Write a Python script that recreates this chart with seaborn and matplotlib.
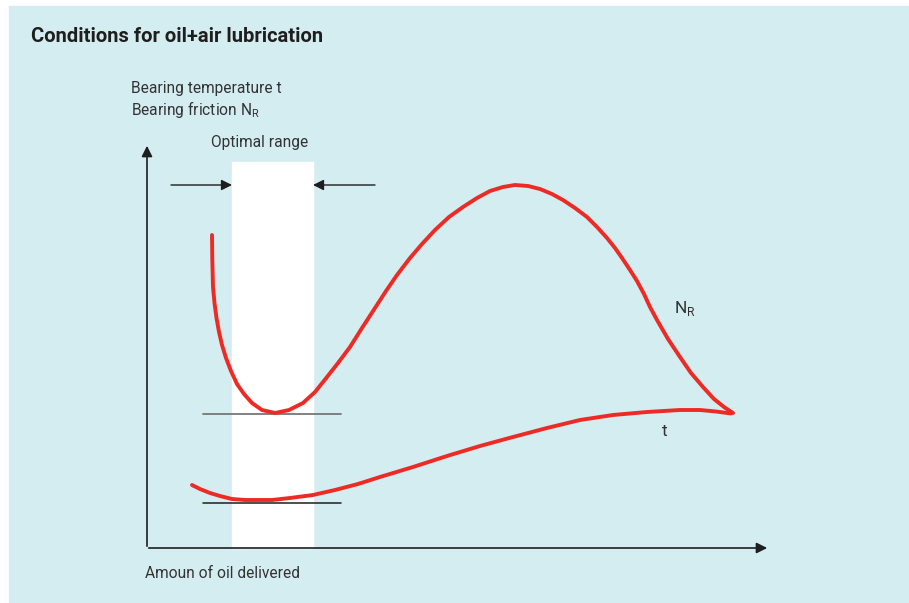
import pandas as pd
import matplotlib.pyplot as plt
import seaborn as sns

# curve points (pixel coords, y downwards)
nr_x = [212, 212.3, 213, 214.5, 216.5, 219, 222, 226, 231, 237, 244, 252, 262, 275, 289,
        303, 315, 327, 338, 350, 362, 375, 386, 397, 410, 422, 435, 449, 463, 477, 490,
        503, 515, 528, 540, 552, 563, 575, 587, 597, 607, 615, 622, 630, 637, 644, 650,
        657, 668, 680, 691, 703, 714, 724, 733]
nr_y = [235, 260, 287, 303, 318, 332, 345, 358, 371, 384, 394, 403, 410, 413, 410,
        403, 392, 377, 363, 347, 328, 308, 291, 275, 258, 244, 230, 217, 207, 198, 191,
        187, 185, 186, 189, 194, 200, 208, 217, 227, 238, 248, 258, 270, 281, 294, 307,
        320, 339, 357, 373, 387, 399, 407, 413]

t_x = [192, 200, 210, 220, 232, 245, 258, 272, 290, 313, 335, 358, 380, 413, 447, 480,
       513, 547, 580, 613, 647, 680, 700, 716, 731]
t_y = [485, 489, 493, 496, 499, 500, 500, 500, 498, 495, 490, 484, 477, 467, 456, 446,
       437, 428, 420, 415, 412, 410, 410, 411.5, 413.5]

curves = pd.DataFrame({
    "x": nr_x + t_x,
    "y": nr_y + t_y,
    "curve": ["N_R"] * len(nr_x) + ["t"] * len(t_x),
})

sns.set_theme(style="white")
plt.rcParams['font.family'] = ['Roboto', 'DejaVu Sans']

bg = "#d4edf1"
red = "#ee2a24"
ink = "#1e1e1e"

fig = plt.figure(figsize=(9.09, 6.03), dpi=100)
ax = fig.add_axes([0, 0, 1, 1])

# panel background and optimal range band
ax.add_patch(plt.Rectangle((9, 6), 900, 597, color=bg, zorder=0))
ax.add_patch(plt.Rectangle((232, 162), 81, 386, color="white", zorder=1))

sns.lineplot(data=curves, x="x", y="y", units="curve", estimator=None, sort=False,
             color=red, lw=2.8, ax=ax, zorder=4, legend=False)
ax.set_xlim(0, 909)
ax.set_ylim(603, 0)
ax.axis("off")

# minimum reference lines
ax.plot([203, 341], [414, 414], color="#777777", lw=1.3, zorder=3)
ax.plot([203, 341], [503, 503], color=ink, lw=1.1, zorder=3)

# axes with arrows
ax.annotate("", xy=(147, 143), xytext=(147, 549),
            arrowprops=dict(arrowstyle="-|>", color=ink, lw=1.2, mutation_scale=16), zorder=5)
ax.annotate("", xy=(770, 548), xytext=(146, 548),
            arrowprops=dict(arrowstyle="-|>", color=ink, lw=1.2, mutation_scale=16), zorder=5)

# optimal range arrows
ax.annotate("", xy=(232, 185), xytext=(171, 185),
            arrowprops=dict(arrowstyle="-|>", color=ink, lw=1.0, mutation_scale=16,
                            shrinkA=0, shrinkB=0), zorder=5)
ax.annotate("", xy=(313, 185), xytext=(375, 185),
            arrowprops=dict(arrowstyle="-|>", color=ink, lw=1.0, mutation_scale=16,
                            shrinkA=0, shrinkB=0), zorder=5)

# texts
ax.text(31, 37, "Conditions for oil+air lubrication", fontsize=14.5, fontweight="bold",
        color=ink, va="center", ha="left")
ax.text(131, 89, "Bearing temperature t", fontsize=11.2, color="#333333", va="center")
ax.text(131, 110, "Bearing friction N$_\\mathregular{R}$", fontsize=11.2, color="#333333", va="center")
ax.text(260, 143, "Optimal range", fontsize=11.2, color="#333333", va="center", ha="center")
ax.text(145, 573, "Amoun of oil delivered", fontsize=11.2, color="#333333", va="center")
ax.text(674, 308, "N$_\\mathregular{R}$", fontsize=12.5, color="#333333", va="center")
ax.text(662, 432, "t", fontsize=12.5, color="#333333", va="center")

fig.savefig("out.png", dpi=100)
